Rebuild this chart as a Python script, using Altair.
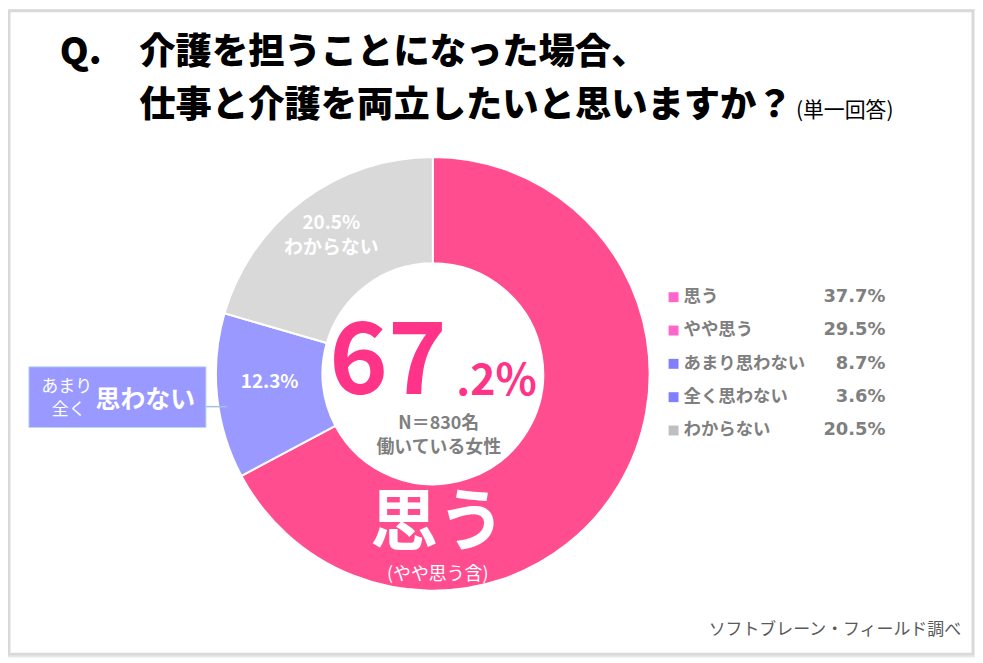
import altair as alt
import pandas as pd

# ---- data ----
donut_labels = ["思う（やや思う含）", "思わない", "わからない"]
donut_values = [67.2, 12.3, 20.5]
donut_colors = ["#FF4D8F", "#9999FF", "#D9D9D9"]

legend_labels = ["思う", "やや思う", "あまり思わない", "全く思わない", "わからない"]
legend_values = [37.7, 29.5, 8.7, 3.6, 20.5]
legend_colors = ["#FF66CC", "#FF66CC", "#8080FF", "#8080FF", "#BFBFBF"]

title_lines = ["介護を担うことになった場合、", "仕事と介護を両立したいと思いますか？"]
FONT = "Noto Sans CJK JP"
O = 8  # page margin offset

W, H = 972, 650

donut_df = pd.DataFrame({
    "label": donut_labels, "value": donut_values,
    "col": donut_colors, "idx": list(range(len(donut_labels)))
})
legend_df = pd.DataFrame({
    "label": legend_labels, "value": legend_values,
    "val_txt": [f"{v:.1f}%" for v in legend_values],
    "col": legend_colors, "rank": list(range(len(legend_labels)))
})
one = pd.DataFrame({"a": [0]})

CX, CY = 435 - O, 374 - O

frame = alt.Chart(one).mark_rect(fill="white", stroke="#D9D9D9", strokeWidth=3).encode(
    x=alt.value(1), x2=alt.value(W - 2), y=alt.value(1), y2=alt.value(H - 2))

donut = alt.Chart(donut_df).mark_arc(innerRadius=111, outerRadius=218,
                                     stroke="white", strokeWidth=2).encode(
    theta=alt.Theta("value:Q", stack=True),
    order=alt.Order("idx:Q"),
    color=alt.Color("col:N", scale=None),
    x=alt.value(CX), y=alt.value(CY))

def txt(s, x, y, size, color, weight="bold", align="center", baseline="middle", font=FONT):
    return alt.Chart(one).mark_text(text=s, fontSize=size, color=color, fontWeight=weight,
                                    align=align, baseline=baseline, font=font).encode(
        x=alt.value(x - O), y=alt.value(y - O))

texts = [
    txt("Q.", 60, 52, 37, "#000000", 900, align="left"),
    txt(title_lines[0], 140, 52, 36.5, "#000000", 900, align="left"),
    txt(title_lines[1], 140, 105, 36.5, "#000000", 900, align="left"),
    txt("(単一回答)", 800, 110, 21, "#000000", "normal", align="left"),
    txt("67", 390, 364, 100, "#FF3388", "bold"),
    txt(".2%", 499, 382, 43, "#FF3388", "bold"),
    txt("N＝830名", 441, 424, 18, "#7F7F7F", "bold"),
    txt("働いている女性", 441, 449, 18, "#7F7F7F", "bold"),
    txt("思う", 440, 526, 68, "white", "bold"),
    txt("(やや思う含)", 440, 576, 18, "white", "normal"),
    txt("12.3%", 271, 382, 19, "white", "bold"),
    txt("20.5%", 333, 222, 19, "white", "bold"),
    txt("わからない", 333, 248, 19, "white", "bold"),
    txt("ソフトブレーン・フィールド調べ", 966, 632, 17, "#595959", "normal", align="right"),
]

callout_box = alt.Chart(one).mark_rect(fill="#9999FF", stroke="#BDD7EE", strokeWidth=1).encode(
    x=alt.value(29 - O), x2=alt.value(207 - O), y=alt.value(367 - O), y2=alt.value(428 - O))
callout_line = alt.Chart(one).mark_rule(color="#9DC3E6", strokeWidth=1.5).encode(
    x=alt.value(207 - O), x2=alt.value(228 - O), y=alt.value(407 - O), y2=alt.value(407 - O))
callout_texts = [
    txt("あまり", 67, 387, 17, "white", "normal"),
    txt("全く", 69, 410, 17, "white", "normal"),
    txt("思わない", 146, 400, 25, "white", "bold"),
]

ypos = alt.Y("rank:O", scale=alt.Scale(type="point", range=[297 - O, 431 - O], padding=0), axis=None)
leg_sq = alt.Chart(legend_df).mark_square(size=100, opacity=1).encode(
    x=alt.value(677 - O), y=ypos, color=alt.Color("col:N", scale=None))
leg_lab = alt.Chart(legend_df).mark_text(align="left", baseline="middle", fontSize=17.5,
                                        fontWeight="bold", font=FONT, color="#7F7F7F").encode(
    x=alt.value(687 - O), y=ypos, text="label:N")
leg_val = alt.Chart(legend_df).mark_text(align="right", baseline="middle", fontSize=18,
                                        fontWeight="bold", font="DejaVu Sans",
                                        color="#7F7F7F").encode(
    x=alt.value(890 - O), y=ypos, text="val_txt:N")

chart = alt.layer(frame, donut, callout_line, callout_box, *callout_texts, *texts,
                  leg_sq, leg_lab, leg_val).resolve_scale(
    x="independent", y="independent").properties(
    width=W, height=H, autosize="none", padding=0
).configure_view(stroke=None).configure(background="white")

chart.save("out.html", embed_options={"renderer": "svg", "actions": False})
